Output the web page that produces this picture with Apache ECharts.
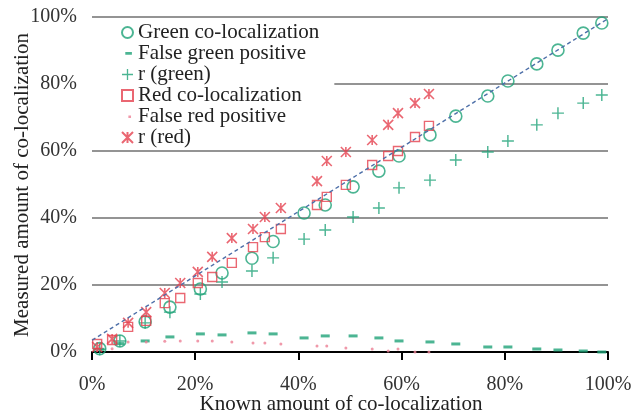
<!DOCTYPE html>
<html>
<head>
<meta charset="utf-8">
<script src="https://cdn.jsdelivr.net/npm/echarts@6/dist/echarts.min.js"></script>
<style>html,body{margin:0;padding:0;background:#fff}#c{width:635px;height:415px}</style>
</head>
<body>
<div id="c"></div>
<script>
// Known amount of co-localization (%) for green and red series
const greenX = [1.5,5.4,10.3,15.1,21,25.2,31,35.1,41.1,45.2,50.6,55.6,59.5,65.5,70.5,76.7,80.6,86.2,90.3,95.2,98.8];
const greenColoc = [1,3.3,9,13.4,18.8,23.6,28,33,41.5,43.9,49.3,54,58.5,64.8,70.4,76.4,80.9,86,90.1,95.2,98.2];
const falseGreen = [0.8,2.5,3.3,4.5,5.4,5.1,5.7,5.4,4.2,4.8,4.8,4.2,3.3,3.0,2.4,1.5,1.5,0.9,0.6,0.3,0];
const rGreen = [0.8,3.3,8.7,11.9,17.3,20.9,24.2,28.1,33.7,36.4,40.3,43,49,51.3,57.3,59.7,63,67.8,71.3,74.3,76.7];

const redX = [1,3.9,7,10.5,14.1,17.1,20.5,23.3,27.1,31.2,33.5,36.6,43.6,45.5,49.2,54.3,57.4,59.3,62.6,65.3];
const redColoc = [2.4,3.6,7.5,9.3,14.6,16.1,20.6,22.4,26.6,31.3,34.3,36.7,43.9,46.3,49.9,55.8,58.5,60,64.2,67.5];
const falseRed = [0.5,1,3,3,3.2,3.3,3.3,3.3,3,2.7,2.7,2.4,1.8,1.8,1.2,0.9,0.3,0.9,0,0];
const rRed = [1.5,3.9,8.7,11.9,17.6,20.6,23.9,28.4,34,36.7,40.3,43,51,57,59.7,63.3,67.8,71.3,74.3,77];

// Dashed reference line end points
const refLineX = [0, 100];
const refLineY = [3.5, 99.5];

const xTicks = [0, 20, 40, 60, 80, 100];
const seriesNames = ['Green co-localization','False green positive','r (green)','Red co-localization','False red positive','r (red)'];

const GREEN = '#1fa378';
const RED = '#e5414f';
const FONT = '"Liberation Serif", "DejaVu Serif", serif';

const PLUS = 'path://M4.4,0h1.2v4.4h4.4v1.2h-4.4v4.4h-1.2v-4.4h-4.4v-1.2h4.4z';
const STAR = 'path://M0,0L10,10M10,0L0,10M5,0L5,10';
const DASH_ICON = 'path://M0,0L0.01,0M0,10L0.01,10M2,3.6h6v2.6h-6z';
const DOT_ICON = 'path://M0,0L0.01,0M0,10L0.01,10M4,4h2.4v2.4h-2.4z';

function zip(xs, ys){ return xs.map((x,i)=>[x, ys[i]]); }

const chart = echarts.init(document.getElementById('c'));
chart.setOption({
  animation: false,
  backgroundColor: '#fff',
  textStyle: { fontFamily: FONT },
  grid: { left: 92, right: 27, top: 17, bottom: 63 },
  legend: {
    orient: 'vertical',
    left: 85, top: 19,
    padding: [3, 15, 2, 36],
    backgroundColor: '#fff',
    itemWidth: 11, itemHeight: 11, itemGap: 0,
    textStyle: { fontFamily: FONT, fontSize: 21, color: '#222', lineHeight: 20, height: 20 },
    data: [
      { name: seriesNames[0] },
      { name: seriesNames[1], icon: DASH_ICON },
      { name: seriesNames[2] },
      { name: seriesNames[3] },
      { name: seriesNames[4], icon: DOT_ICON },
      { name: seriesNames[5] }
    ]
  },
  xAxis: {
    type: 'value', min: 0, max: 100, interval: 20,
    axisLine: { show: true, lineStyle: { color: '#000', width: 2 } },
    axisTick: { show: true, inside: false, length: 8, lineStyle: { color: '#000', width: 2 } },
    splitLine: { show: false },
    axisLabel: { formatter: v => xTicks.includes(v) ? v + '%' : '', fontFamily: FONT, fontSize: 20, color: '#333', margin: 23 }
  },
  yAxis: {
    type: 'value', min: 0, max: 100, interval: 20,
    axisLine: { show: false }, axisTick: { show: false },
    splitLine: { show: true, lineStyle: { color: '#707070', width: 1.6 } },
    axisLabel: { formatter: '{value}%', fontFamily: FONT, fontSize: 20, color: '#333', margin: 15 }
  },
  graphic: [
    { type: 'text', x: 341, y: 404, style: { text: 'Known amount of co-localization', font: '21px ' + FONT, fill: '#222', textAlign: 'center', textVerticalAlign: 'middle' } },
    { type: 'text', x: 22, y: 185, rotation: Math.PI / 2, style: { text: 'Measured amount of co-localization', font: '21px ' + FONT, fill: '#222', textAlign: 'center', textVerticalAlign: 'middle' } }
  ],
  series: [
    { name: seriesNames[0], type: 'scatter', data: zip(greenX, greenColoc), symbol: 'circle', symbolSize: 12,
      itemStyle: { color: 'rgba(255,255,255,0)', borderColor: GREEN, borderWidth: 1.6 } },
    { name: seriesNames[1], type: 'scatter', data: zip(greenX, falseGreen), symbol: 'rect', symbolSize: [9, 3],
      itemStyle: { color: GREEN } },
    { name: seriesNames[2], type: 'scatter', data: zip(greenX, rGreen), symbol: PLUS, symbolSize: 12,
      itemStyle: { color: GREEN } },
    { name: seriesNames[3], type: 'scatter', data: zip(redX, redColoc), symbol: 'rect', symbolSize: 9,
      itemStyle: { color: 'rgba(255,255,255,0)', borderColor: RED, borderWidth: 1.4 } },
    { name: seriesNames[4], type: 'scatter', data: zip(redX, falseRed), symbol: 'circle', symbolSize: 3,
      itemStyle: { color: '#ec7f95' } },
    { name: seriesNames[5], type: 'scatter', data: zip(redX, rRed), symbol: STAR, symbolSize: 10,
      itemStyle: { color: 'rgba(255,255,255,0)', borderColor: RED, borderWidth: 1.6 } },
    { name: 'fit', type: 'line', data: zip(refLineX, refLineY), symbol: 'none', silent: true,
      lineStyle: { color: '#4d6fa8', width: 1.4, type: [4, 3] }, z: 3 }
  ]
});
</script>
</body>
</html>
